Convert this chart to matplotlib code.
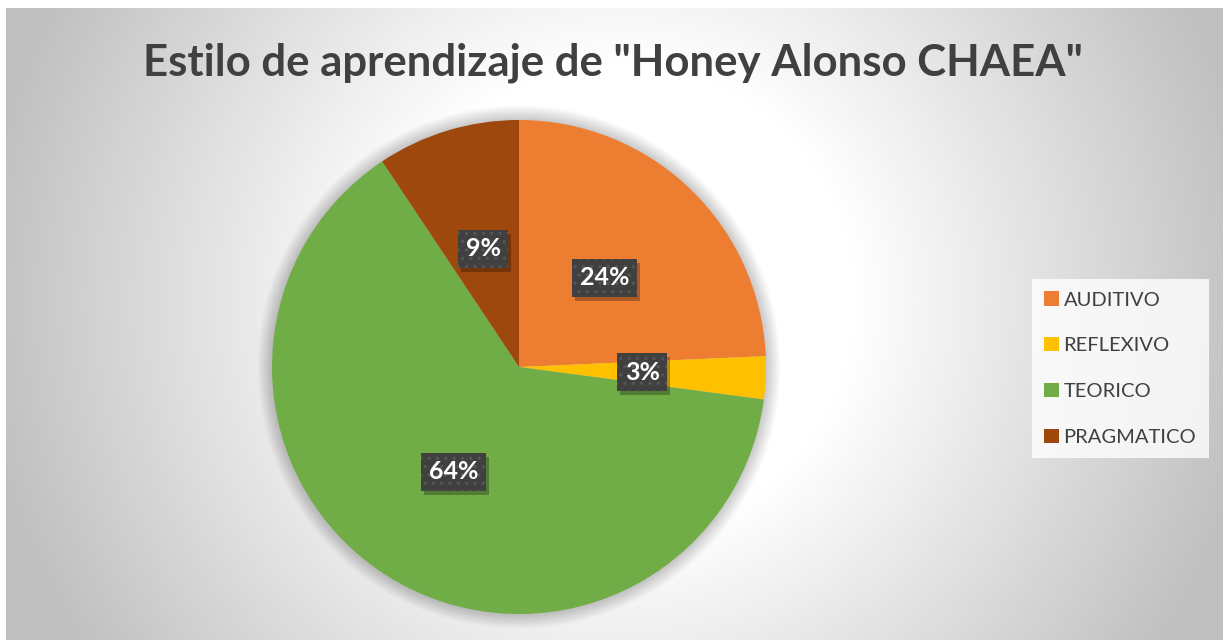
import numpy as np
import matplotlib
matplotlib.use("Agg")
import matplotlib.pyplot as plt
import matplotlib.transforms as mtransforms
from matplotlib.patches import Patch, Circle, Rectangle

# ---- data ----
title = 'Estilo de aprendizaje de "Honey Alonso CHAEA"'
categories = ["AUDITIVO", "REFLEXIVO", "TEORICO", "PRAGMATICO"]
values = [26, 3, 68, 10]
colors = ["#ED7D31", "#FFC000", "#70AD47", "#9E480E"]

W, H = 1223, 640
DPI = 100
plt.rcParams["font.family"] = ["Lato", "DejaVu Sans"]
plt.rcParams["hatch.linewidth"] = 1.2

fig = plt.figure(figsize=(W / DPI, H / DPI), dpi=DPI)
fig.patch.set_facecolor("white")

# ---- background radial gradient (chart area) ----
x0, ytop = 6, 8
bg = fig.add_axes([x0 / W, 0, 1 - x0 / W, 1 - ytop / H])
bg.set_axis_off()
xx, yy = np.meshgrid(np.arange(x0, W), np.arange(ytop, H))
d = np.hypot(xx - 620, yy - 300)
g = 255 - 0.155 * np.clip(d - 235, 0, None)
g = np.clip(g, 192, 255) / 255.0
img = np.dstack([g, g, g])
bg.imshow(img, aspect="auto", interpolation="bilinear")
bg.set_zorder(0)

# ---- pie ----
cx, cy, R = 519, 367, 247
ax = fig.add_axes([(cx - R) / W, (H - cy - R) / H, 2 * R / W, 2 * R / H])
ax.set_zorder(1)
ax.patch.set_alpha(0)

# soft shadow halo around the pie
for i in range(14):
    ax.add_patch(Circle((0, 0.0), 1 + i * 0.0045, color="black",
                        alpha=0.016, lw=0, zorder=0, clip_on=False))

LBL_FS = 18
wedges, texts, autotexts = ax.pie(
    values, colors=colors, startangle=90, counterclock=False,
    autopct=lambda p: f"{p:.0f}%", pctdistance=0.5, radius=1,
    wedgeprops=dict(linewidth=0),
    textprops=dict(color="white", fontsize=LBL_FS, fontweight="bold"))
ax.set_xlim(-1, 1)
ax.set_ylim(-1, 1)
ax.set_aspect("equal")
ax.set_axis_off()

for t in autotexts:
    t.set_zorder(5)
    t.set_bbox(dict(boxstyle="square,pad=0.3", facecolor="#404040",
                    edgecolor="#555555", linewidth=0, hatch=".."))

# ---- title ----
fig.text(613 / W, 1 - 63 / H, title, ha="center", va="center",
         fontsize=31.5, fontweight="bold", color="#404040")

# ---- legend ----
handles = [Patch(facecolor=c, edgecolor="none") for c in colors]
leg = fig.legend(handles, categories, loc="upper left",
                 bbox_to_anchor=(1032 / W, 1 - 279 / H), borderaxespad=0,
                 frameon=True, fontsize=14.5, handlelength=0.7, handleheight=0.7,
                 handletextpad=0.25, labelspacing=1.42, borderpad=0.62,
                 fancybox=False)
leg.get_frame().set_facecolor((1, 1, 1, 0.35))
leg.get_frame().set_edgecolor("none")
for t in leg.get_texts():
    t.set_color("#404040")

# drop shadows behind the data-label boxes (derived from the drawn boxes)
fig.canvas.draw()
for t in autotexts:
    bb = t.get_bbox_patch().get_window_extent()
    rect = Rectangle((bb.x0 + 3, bb.y0 - 4), bb.width, bb.height,
                     transform=mtransforms.IdentityTransform(),
                     facecolor="black", alpha=0.28, edgecolor="none",
                     zorder=4, clip_on=False)
    ax.add_artist(rect)

fig.savefig("out.png", dpi=DPI, facecolor="white")
